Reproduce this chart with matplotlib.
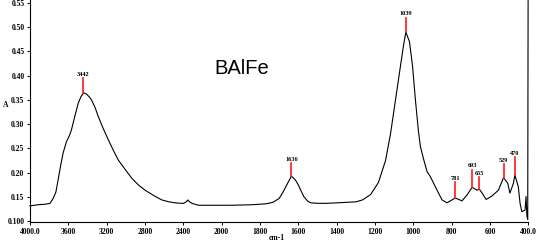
import numpy as np
import matplotlib
matplotlib.use("Agg")
import matplotlib.pyplot as plt

# ---- data ----
wavenumber = [4000, 3920, 3846, 3790, 3759, 3730, 3707, 3680, 3654, 3620, 3590, 3568,
              3530, 3497, 3470, 3442, 3410, 3380, 3358, 3320, 3288, 3240, 3183, 3130,
              3078, 3000, 2939, 2870, 2799, 2700, 2625, 2550, 2485, 2420, 2398, 2370,
              2353, 2335, 2311, 2241, 2136, 2050, 1950, 1846, 1768, 1733, 1700, 1680,
              1659, 1636, 1615, 1600, 1585, 1570, 1550, 1534, 1500, 1450, 1400, 1350,
              1300, 1265, 1223, 1182, 1145, 1119, 1093, 1067, 1052, 1039, 1020, 1004,
              989, 973, 963, 945, 928, 911, 885, 850, 824, 798, 781, 746, 720, 693,
              668, 655, 641, 620, 590, 556, 529, 507, 496, 478, 470, 452, 443, 434,
              417, 412, 407, 403, 401]
absorbance = [0.1316, 0.134, 0.135, 0.137, 0.147, 0.160, 0.185, 0.215, 0.241, 0.264, 0.276, 0.288,
              0.318, 0.343, 0.356, 0.365, 0.362, 0.356, 0.350, 0.334, 0.316, 0.293, 0.268, 0.246,
              0.226, 0.205, 0.189, 0.175, 0.164, 0.152, 0.144, 0.140, 0.138, 0.137, 0.137, 0.140,
              0.144, 0.140, 0.137, 0.133, 0.133, 0.133, 0.133, 0.134, 0.136, 0.139, 0.147, 0.160,
              0.176, 0.193, 0.185, 0.175, 0.162, 0.150, 0.141, 0.138, 0.137, 0.137, 0.138, 0.139,
              0.140, 0.144, 0.155, 0.180, 0.225, 0.280, 0.350, 0.420, 0.460, 0.490, 0.470, 0.420,
              0.350, 0.285, 0.254, 0.226, 0.202, 0.192, 0.171, 0.144, 0.138, 0.144, 0.148, 0.142,
              0.154, 0.170, 0.164, 0.166, 0.158, 0.145, 0.152, 0.164, 0.190, 0.178, 0.158, 0.178,
              0.195, 0.171, 0.137, 0.120, 0.123, 0.151, 0.110, 0.104, 0.556]

peak_pos = [3442, 1636, 1039, 781, 693, 655, 529, 470]
peak_val = [0.365, 0.193, 0.490, 0.148, 0.170, 0.166, 0.190, 0.195]
peak_top = [0.395, 0.220, 0.519, 0.181, 0.206, 0.191, 0.218, 0.232]
peak_labels = ["3442", "1636", "1039", "781", "693", "655", "529", "470"]

xticks = [4000, 3600, 3200, 2800, 2400, 2000, 1800, 1600, 1400, 1200, 1000, 800, 600, 400]
xtick_labels = ["4000.0", "3600", "3200", "2800", "2400", "2000", "1800", "1600",
                "1400", "1200", "1000", "800", "600", "400.0"]
yticks = [0.10, 0.15, 0.20, 0.25, 0.30, 0.35, 0.40, 0.45, 0.50, 0.55]
ytick_labels = ["0.100", "0.15", "0.20", "0.25", "0.30", "0.35", "0.40", "0.45", "0.50", "0.55"]

title = "BAlFe"

# ---- figure ----
W, H = 540, 245
fig = plt.figure(figsize=(W / 100, H / 100), dpi=100)
ax = fig.add_axes([30 / W, 1 - 222 / H, 498.3 / W, 222 / H])


def fwd(x):
    x = np.asarray(x, dtype=float)
    return np.where(x > 2000, 2000 + (x - 2000) / 2.0, x)


def inv(u):
    u = np.asarray(u, dtype=float)
    return np.where(u > 2000, 2000 + 2.0 * (u - 2000), u)


ax.set_xscale("function", functions=(fwd, inv))
ax.plot(wavenumber, absorbance, color="black", lw=0.8, clip_on=False)

for p, v, t, lab in zip(peak_pos, peak_val, peak_top, peak_labels):
    ax.plot([p, p], [v, t], color="#ff1a1a", lw=1.2, clip_on=False)
    ax.text(p, t + 0.003, lab, ha="center", va="bottom", fontsize=4.5,
            family="Liberation Serif", fontweight="bold")

ax.set_xlim(4000, 400)
ax.set_ylim(0.0985, 0.556)
ax.set_xticks(xticks)
ax.set_xticklabels(xtick_labels)
ax.set_yticks(yticks)
ax.set_yticklabels(ytick_labels)
ax.minorticks_off()

for s in ["top", "right"]:
    ax.spines[s].set_visible(False)
for s in ["left", "bottom"]:
    ax.spines[s].set_linewidth(0.8)
    ax.spines[s].set_color("black")

ax.tick_params(axis="both", length=2.5, width=0.7, pad=1.5, labelsize=5.5, direction="out")
for lbl in ax.get_xticklabels() + ax.get_yticklabels():
    lbl.set_family("Liberation Serif")
    lbl.set_fontweight("bold")

ax.text(242 / 498.3 - 30 / 498.3, (222 - 68) / 222, title, transform=ax.transAxes,
        ha="center", va="center", fontsize=14.5, family="Liberation Sans")

fig.text(277 / W, 1 - 238 / H, "cm-1", ha="center", va="center", fontsize=5.5,
         family="Liberation Serif", fontweight="bold")
fig.text(6 / W, 1 - 105 / H, "A", ha="center", va="center", fontsize=5.5,
         family="Liberation Serif", fontweight="bold")

fig.savefig("out.png", dpi=100)
